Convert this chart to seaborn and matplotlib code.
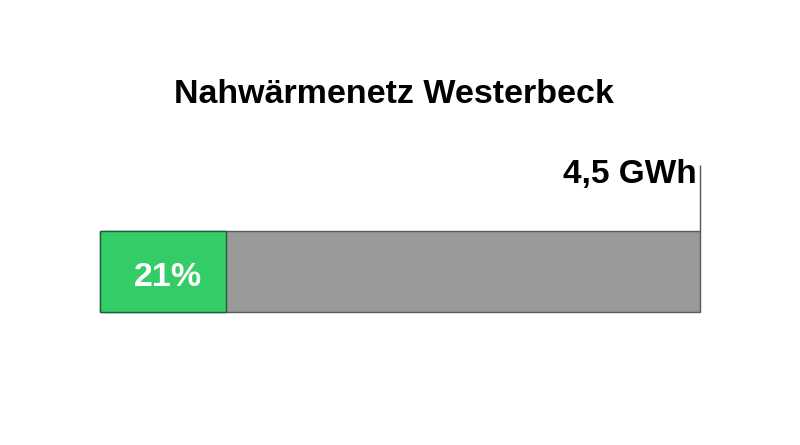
import seaborn as sns
import matplotlib.pyplot as plt

# values
title = "Nahwärmenetz Westerbeck"
total_label = "4,5 GWh"
share = 0.21
share_label = "21%"
category = ["Nahwärme"]

sns.set_theme(style="white")
plt.rcParams['font.family'] = ['Liberation Sans', 'DejaVu Sans']

fig = plt.figure(figsize=(8, 4.45), dpi=100)
ax = fig.add_axes([0.125, (445 - 330) / 445, 0.75, 180 / 445])

# full bar (gray) and share (green)
sns.barplot(x=[1.0], y=category, color="#999999", edgecolor="#5a5a5a",
            linewidth=1, saturation=1, width=0.8, ax=ax)
sns.barplot(x=[share], y=category, color="#33cc66", edgecolor="#1e5e34",
            linewidth=1, saturation=1, width=0.8, ax=ax)
for p in ax.patches:
    p.set_clip_on(False)

ax.set_xlim(0, 1)
ax.set_ylim(0.578, -1.2)

# marker line for the total
ax.vlines(1.0, -0.4, -1.052, color="#555555", linewidth=1, clip_on=False)
ax.text(0.995, -0.874, total_label, ha="right", va="baseline",
        fontsize=24, fontweight="bold", color="black")

ax.text(0.113, 0.143, share_label, ha="center", va="baseline",
        fontsize=24.5, fontweight="bold", color="white")

fig.text(393.5 / 800, 1 - 103 / 445, title, ha="center", va="baseline",
         fontsize=24.5, fontweight="bold", color="black")

ax.set_xlabel("")
ax.set_ylabel("")
ax.set_xticks([])
ax.set_yticks([])
sns.despine(ax=ax, left=True, bottom=True)

fig.savefig("out.png", dpi=100, facecolor="white")
